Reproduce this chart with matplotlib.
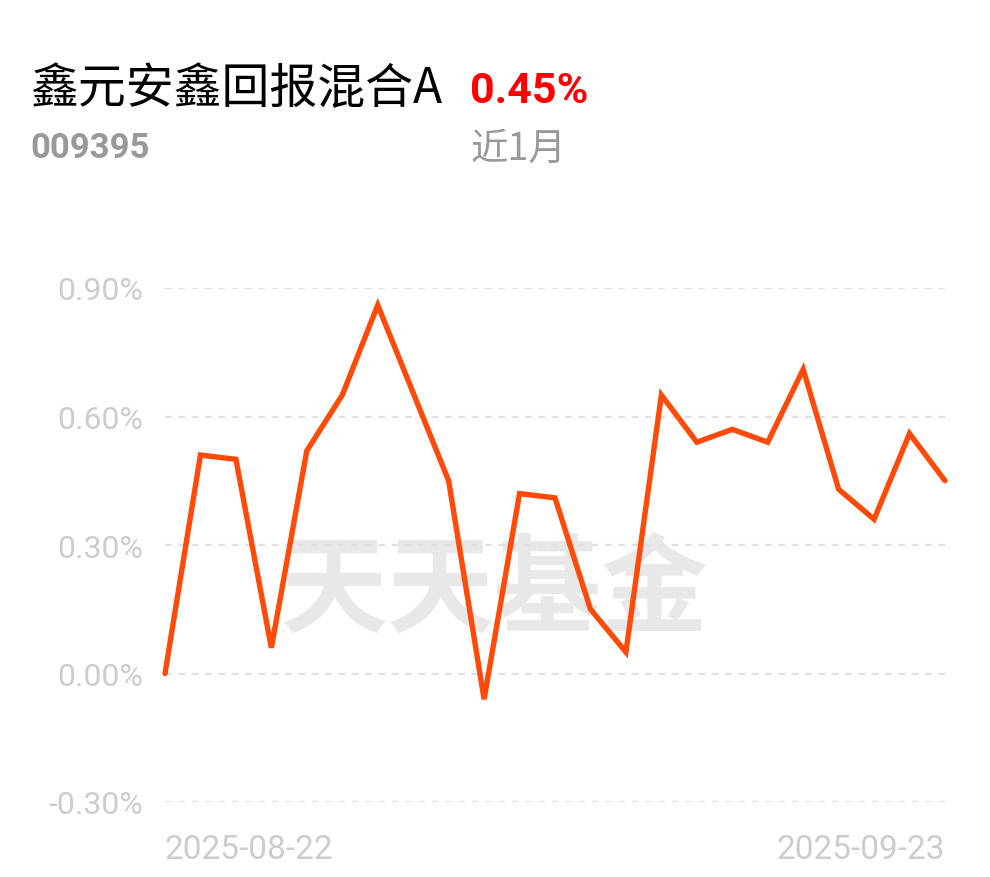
import matplotlib
matplotlib.use('Agg')
import matplotlib.pyplot as plt

# fund info
fund_name = '鑫元安鑫回报混合A'
fund_code = '009395'
period_label = '近1月'
period_return = '0.45%'

# trading days and cumulative return (%)
dates = ['2025-08-22', '2025-08-25', '2025-08-26', '2025-08-27', '2025-08-28',
         '2025-08-29', '2025-09-01', '2025-09-02', '2025-09-03', '2025-09-04',
         '2025-09-05', '2025-09-08', '2025-09-09', '2025-09-10', '2025-09-11',
         '2025-09-12', '2025-09-15', '2025-09-16', '2025-09-17', '2025-09-18',
         '2025-09-19', '2025-09-22', '2025-09-23']
returns = [0.00, 0.51, 0.50, 0.06, 0.52, 0.65, 0.86, 0.655, 0.45, -0.06,
           0.42, 0.41, 0.15, 0.05, 0.65, 0.54, 0.57, 0.54, 0.71, 0.43,
           0.36, 0.56, 0.45]

y_ticks = [-0.30, 0.00, 0.30, 0.60, 0.90]
y_labels = ['-0.30%', '0.00%', '0.30%', '0.60%', '0.90%']

cjk = ['Noto Sans CJK SC', 'DejaVu Sans']
num = ['Roboto', 'DejaVu Sans']

fig = plt.figure(figsize=(9.9, 8.78), dpi=100)
ax = fig.add_axes([165/990, 1 - 803/878, 780/990, (803 - 289)/878])

x = list(range(len(dates)))
ax.plot(x, returns, color='#ff4a0a', lw=3.9, solid_capstyle='round',
        solid_joinstyle='miter', clip_on=False, zorder=3)

ax.set_xlim(0, len(dates) - 1)
ax.set_ylim(y_ticks[0], y_ticks[-1])

ax.set_yticks(y_ticks)
ax.set_yticklabels(y_labels, family=num, fontsize=23, color='#cccccc')
ax.set_xticks([0, len(dates) - 1])
ax.set_xticklabels([dates[0], dates[-1]], family=num, fontsize=24, color='#cccccc')
xl = ax.get_xticklabels()
xl[0].set_ha('left')
xl[1].set_ha('right')
ax.tick_params(axis='y', length=0, pad=16)
ax.tick_params(axis='x', length=0, pad=22)

ax.grid(axis='y', color='#e0e0e0', lw=1.6, dashes=(3, 3))
ax.grid(axis='x', visible=False)
for s in ax.spines.values():
    s.set_visible(False)
ax.set_facecolor('none')

# watermark
ax.text(0.423, 0.41, '天天基金', transform=ax.transAxes, ha='center', va='center',
        family=cjk, fontsize=77, fontweight='bold', color='#e8e8e8', zorder=0)

# header
fig.text(30/990, 1 - 103/878, fund_name, family=cjk, fontsize=34.5, color='black',
         va='baseline')
fig.text(470/990, 1 - 103/878, period_return, family=num, fontsize=31,
         fontweight='bold', color='#ff0000', va='baseline')
fig.text(30/990, 1 - 158/878, fund_code, family=num, fontsize=25,
         fontweight='bold', color='#999999', va='baseline')
fig.text(470/990, 1 - 160/878, period_label, family=cjk, fontsize=27,
         color='#999999', va='baseline')

fig.savefig('out.png', dpi=100, facecolor='white')
